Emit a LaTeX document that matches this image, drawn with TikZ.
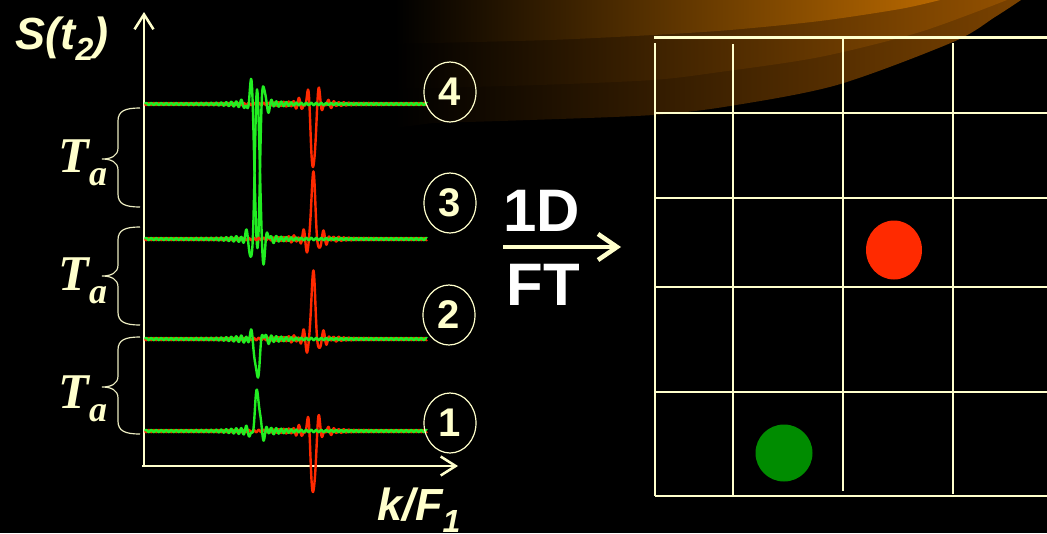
\documentclass[tikz,border=0pt]{standalone}
\usepackage{fontspec}
\setmainfont{Liberation Sans}
\newfontfamily\timesfont{Liberation Serif}
\usetikzlibrary{arrows.meta,shapes.geometric}

\definecolor{cream}{HTML}{FFFFCC}
\definecolor{sigred}{HTML}{FF2A00}
\definecolor{siggreen}{HTML}{22EE22}
\definecolor{dotred}{HTML}{FF2A00}
\definecolor{dotgreen}{HTML}{008C00}
\definecolor{swoA}{HTML}{7A4200}
\definecolor{swoB}{HTML}{925000}
\definecolor{swoC}{HTML}{B86800}

\tikzset{
  axisline/.style={draw=cream, line width=2.5pt, -{Straight Barb[length=15pt,width=19pt]}},
  ftarrow/.style={draw=cream, line width=4.5pt, -{Straight Barb[length=19pt,width=26pt]}},
  gridline/.style={draw=cream, line width=2pt},
  bracestyle/.style={draw=cream!85!gray, line width=1.2pt},
  redsig/.style={draw=sigred, line width=2.4pt, line join=round},
  greensig/.style={draw=siggreen, line width=2.4pt, line join=round},
  numcirc/.style={ellipse, draw=cream, line width=1.2pt, minimum width=52pt, minimum height=60pt,
                  inner sep=0pt, text=cream, font=\fontsize{40}{40}\selectfont\bfseries},
  axislabel/.style={anchor=base west, text=cream, font=\fontsize{45}{45}\selectfont\bfseries\itshape},
  talabel/.style={anchor=base west, text=cream, font=\timesfont\fontsize{50}{50}\selectfont\bfseries\itshape},
  ftlabel/.style={anchor=base west, text=white, font=\fontsize{60}{60}\selectfont\bfseries},
}

% one echo line: baseline, green amplitude, red amplitude (positive = up)
\newcommand\sigpair[3]{%
  \draw[redsig] plot[domain=145:427,samples=565]
    (\x,{#1-(#3)*pk((\x-313.25)/4,16)-rip(\x+2.5,313)});
  \draw[greensig] plot[domain=145:427,samples=565]
    (\x,{#1-(#2)*pk((\x-257.25)/4.5,5)-rip(\x,257)});
}

% curly brace on the left of the time axis
\newcommand\tabrace[3]{%
  \draw[bracestyle] (140,#1) .. controls (125,#1) and (118,#1+3) .. (118,#1+13)
    -- (118,#3-11) .. controls (118,#3-3) and (111,#3) .. (102,#3)
    .. controls (111,#3) and (118,#3+3) .. (118,#3+11)
    -- (118,#2-13) .. controls (118,#2-3) and (125,#2) .. (140,#2);
}

\begin{document}
\begin{tikzpicture}[x=1pt,y=-1pt,
  declare function={
    pk(\u,\s)=sin(180*\u)/(pi*\u)*exp(-min(\u*\u/\s,9));
    rip(\p,\c)=(1.1+3.2*exp(-min(((\p-\c)/26)*((\p-\c)/26),9)))*sin(72*mod(\p,5));
  }]
\fill[black] (0,0) rectangle (1047,533);
\useasboundingbox (0,0) rectangle (1047,533);

% decorative swoosh at the top
\shade[left color=black, right color=swoA] (395,0) -- (395,128) -- plot[smooth] coordinates
  {(433,123) (530,120) (653,115) (730,106) (837,85) (953,42) (995,17) (1021,0)} -- cycle;
\shade[left color=black, right color=swoB] (395,0) -- (395,89) -- plot[smooth] coordinates
  {(433,88) (540,85) (653,80) (720,72) (820,57) (920,32) (1007,0)} -- cycle;
\shade[left color=black, right color=swoC] (395,0) -- (395,44) -- plot[smooth] coordinates
  {(433,43) (550,40) (653,35) (730,30) (820,21) (900,9) (940,0)} -- cycle;

% k-space grid
\draw[gridline, line width=3pt] (654,37) -- (1047,37);
\foreach \yy in {113,198,287,392,496} \draw[gridline] (655,\yy) -- (1047,\yy);
\draw[gridline] (655,43) -- (655,496);
\draw[gridline] (733,44) -- (733,496);
\draw[gridline] (843,39) -- (843,491);
\draw[gridline] (953,43) -- (953,494);
\fill[dotred] (894,250) ellipse [x radius=28pt, y radius=29.5pt];
\fill[dotgreen] (784,453) ellipse [x radius=28.5pt, y radius=28.5pt];

% axes
\coordinate (origin) at (144,466);
\coordinate (ytip) at (144,12);
\coordinate (xstart) at (142,466);
\coordinate (xtip) at (458,466);
\draw[axisline] (origin) -- (ytip);
\draw[axisline] (xstart) -- (xtip);

% echo lines
\sigpair{104}{-145}{-66}
\sigpair{239}{148}{64}
\sigpair{339}{-38}{65}
\sigpair{431}{39}{-64}

% numbered markers
\node[numcirc] (c4) at (450,92) {4};
\node[numcirc] (c3) at (450,203) {3};
\node[numcirc] (c2) at (449,315) {2};
\node[numcirc] (c1) at (450,423) {1};

% braces and their labels
\tabrace{108}{207}{159}
\tabrace{227}{325}{276}
\tabrace{337}{434}{387}
\node[talabel] (ta1) at (55,172) {T\raisebox{-13pt}{\fontsize{36}{36}\selectfont a}};
\node[talabel] (ta2) at (55,290) {T\raisebox{-13pt}{\fontsize{36}{36}\selectfont a}};
\node[talabel] (ta3) at (55,408) {T\raisebox{-13pt}{\fontsize{36}{36}\selectfont a}};

% axis labels
\node[axislabel] (ylab) at (12,49) {S(t\raisebox{-11pt}{\fontsize{32}{32}\selectfont 2})};
\node[axislabel] (xlab) at (374,520) {k/F\raisebox{-12pt}{\fontsize{32}{32}\selectfont 1}};

% transform arrow
\node[ftlabel] (oned) at (500,231) {1D};
\node[ftlabel] (ft) at (503,305) {FT};
\coordinate (ftstart) at (503,247);
\coordinate (ftend) at (621,247);
\draw[ftarrow] (ftstart) -- (ftend);
\end{tikzpicture}
\end{document}
